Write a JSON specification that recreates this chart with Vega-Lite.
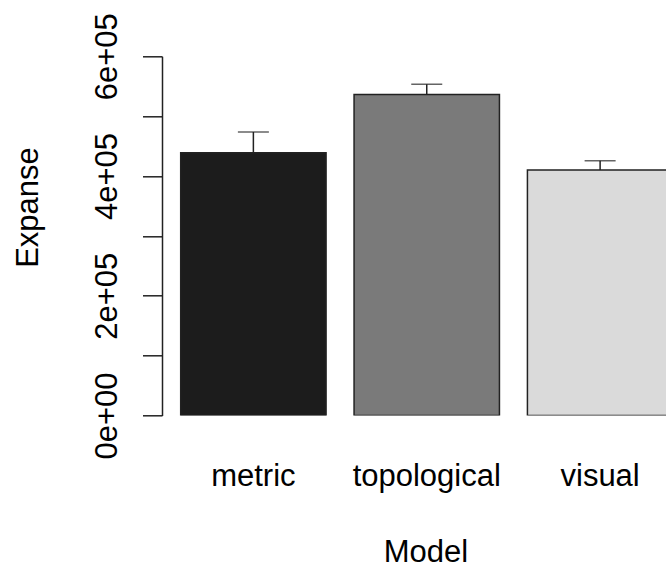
{
  "$schema": "https://vega.github.io/schema/vega-lite/v6.json",
  "width": 504,
  "height": 359.2,
  "autosize": "none",
  "padding": {"left": 162, "top": 56.3, "right": 0, "bottom": 153.5},
  "background": "white",
  "config": {
    "view": {"stroke": null},
    "font": "Liberation Sans"
  },
  "data": {
    "values": [
      {"model": "metric", "expanse": 439000, "upper": 473500},
      {"model": "topological", "expanse": 536000, "upper": 553500},
      {"model": "visual", "expanse": 410000, "upper": 425600}
    ]
  },
  "encoding": {
    "x": {
      "field": "model",
      "type": "nominal",
      "sort": ["metric", "topological", "visual"],
      "scale": {"range": [0, 529.5], "paddingInner": 0.1614, "paddingOuter": 0.1078},
      "axis": {
        "title": "Model",
        "domain": false,
        "ticks": false,
        "tickSize": 0,
        "labelAngle": 0,
        "labelFont": "Liberation Sans",
        "labelFontSize": 31,
        "labelColor": "black",
        "labelBaseline": "alphabetic",
        "labelPadding": 69.5,
        "titleFont": "Liberation Sans",
        "titleFontSize": 31,
        "titleFontWeight": "normal",
        "titleColor": "black",
        "titleAlign": "center",
        "titleBaseline": "alphabetic",
        "titleAnchor": null,
        "titleX": 263.5,
        "titleY": 146.2
      }
    }
  },
  "layer": [
    {
      "mark": {"type": "bar", "clip": true, "stroke": "#222222", "strokeWidth": 1.5},
      "encoding": {
        "y": {
          "field": "expanse",
          "type": "quantitative",
          "scale": {"domain": [0, 600000], "nice": false, "zero": true},
          "axis": {
            "title": "Expanse",
            "values": [0, 100000, 200000, 300000, 400000, 500000, 600000],
            "labelExpr": "datum.value == 0 ? '0e+00' : datum.value == 200000 ? '2e+05' : datum.value == 400000 ? '4e+05' : datum.value == 600000 ? '6e+05' : ''",
            "grid": false,
            "domainColor": "#222222",
            "domainWidth": 1.5,
            "tickColor": "#222222",
            "tickWidth": 1.5,
            "tickSize": 19.5,
            "labelAngle": -90,
            "labelAlign": "center",
            "labelBaseline": "alphabetic",
            "labelPadding": 26.5,
            "labelFont": "Liberation Sans",
            "labelFontSize": 31,
            "labelColor": "black",
            "labelOverlap": false,
            "labelFlush": false,
            "titleFont": "Liberation Sans",
            "titleFontSize": 31,
            "titleFontWeight": "normal",
            "titleColor": "black",
            "titleAngle": -90,
            "titleAlign": "center",
            "titleBaseline": "alphabetic",
            "titleAnchor": null,
            "titleX": -125,
            "titleY": 150.7
          }
        },
        "color": {
          "field": "model",
          "type": "nominal",
          "scale": {"domain": ["metric", "topological", "visual"], "range": ["#1c1c1c", "#7a7a7a", "#dadada"]},
          "legend": null
        }
      }
    },
    {
      "mark": {"type": "rule", "clip": true, "color": "#222222", "strokeWidth": 1.5},
      "encoding": {
        "y": {"field": "expanse", "type": "quantitative"},
        "y2": {"field": "upper"}
      }
    },
    {
      "mark": {"type": "tick", "clip": true, "orient": "horizontal", "color": "#222222", "size": 31, "thickness": 1.5},
      "encoding": {
        "y": {"field": "upper", "type": "quantitative"}
      }
    }
  ]
}
